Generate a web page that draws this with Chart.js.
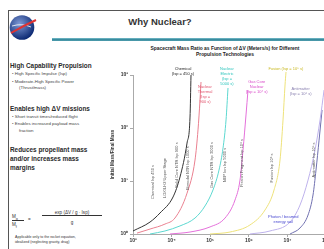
<!DOCTYPE html>
<html>
<head>
<meta charset="utf-8">
<script src="https://cdn.jsdelivr.net/npm/chart.js@4/dist/chart.umd.min.js"></script>
<style>
  html, body { margin: 0; padding: 0; width: 324px; height: 249px; overflow: hidden; background: #fff;
    font-family: "Liberation Sans", Arial, sans-serif; }
  #frame { position: absolute; left: 8px; top: 10px; width: 330px; height: 250px;
    border-left: 1px solid #555; border-top: 1px solid #555; }
  #logo { position: absolute; left: 9px; top: 14px; }
  #title { position: absolute; left: 100px; width: 120px; top: 16px; text-align: center;
    font-weight: bold; font-size: 9.5px; line-height: 11px; color: #333; }
  #rule { position: absolute; left: 52px; top: 38px; width: 280px; height: 3px;
    background: linear-gradient(#7cc0cc, #2d8196 60%, #5aa7b6); }
  #ctitle { position: absolute; left: 115px; width: 220px; top: 46px; text-align: center;
    font-weight: bold; font-size: 4.9px; line-height: 6px; color: #222; }
  #side { position: absolute; left: 10px; top: 61px; width: 97px; color: #2a2a2a; }
  .h { font-weight: bold; font-size: 6.4px; line-height: 9px; }
  .b { font-size: 4.4px; line-height: 8.5px; padding-left: 2px; color: #444; }
  .c { padding-left: 7px; }
  .gap { height: 10px; }
  #formula { position: absolute; left: 12px; top: 208px; width: 95px; font-size: 4.6px; color: #333; }
  #note { position: absolute; left: 15px; top: 235px; width: 85px; font-size: 3.6px; line-height: 5px; color: #333; }
  #wrap { position: absolute; left: 105px; top: 60px; width: 240px; height: 195px; }
</style>
</head>
<body>
<div id="frame"></div>
<svg id="logo" width="28" height="28" viewBox="0 0 28 28">
  <defs>
    <radialGradient id="g" cx="40%" cy="35%" r="65%">
      <stop offset="0" stop-color="#7f9ad6"/>
      <stop offset="1" stop-color="#0d2a74"/>
    </radialGradient>
  </defs>
  <circle cx="13" cy="13.5" r="12.3" fill="url(#g)"/>
  <path d="M3 12 Q13 9 22 13" stroke="#fff" stroke-width="0.8" fill="none"/>
  <path d="M2 19 Q14 12 27 6" stroke="#d33" stroke-width="2" fill="none"/>
</svg>
<div id="title">Why Nuclear?</div>
<div id="rule"></div>
<div id="ctitle">Spacecraft Mass Ratio as Function of &Delta;V (Meters/s) for Different<br>Propulsion Technologies</div>

<div id="side">
  <div class="h">High Capability Propulsion</div>
  <div class="b">&bull; High Specific Impulse (Isp)</div>
  <div class="b" style="line-height:6.5px">&bull; Moderate-High Specific Power<br><span class="c">(Thrust/mass)</span></div>
  <div class="gap" style="height:12px"></div>
  <div class="h">Enables high &Delta;V missions</div>
  <div class="b">&bull; Short transit times/reduced flight</div>
  <div class="b" style="line-height:6.5px">&bull; Enables increased payload mass<br><span class="c">fraction</span></div>
  <div class="gap" style="height:11px"></div>
  <div class="h">Reduces propellant mass<br>and/or increases mass<br>margins</div>
</div>

<div id="formula">
  <span style="position:absolute;left:0;top:6px">M<sub>o</sub></span>
  <span style="position:absolute;left:0;top:12px;border-top:0.6px solid #333;width:12px;padding-top:1px">M<sub>f</sub></span>
  <span style="position:absolute;left:16px;top:9px">=</span>
  <span style="position:absolute;left:30px;top:2px;width:60px;text-align:center;border-bottom:0.6px solid #333">exp (&Delta;V / g &middot; Isp)</span>
  <span style="position:absolute;left:30px;top:12px;width:60px;text-align:center">g</span>
</div>
<div id="note">Applicable only to the rocket equation,<br>idealized (neglecting gravity, drag)</div>

<div id="wrap"><canvas id="myChart"></canvas></div>

<script>
"use strict"

// Tick labels
const xTicks = [1e3, 1e4, 1e5, 1e6, 1e7, 1e8];
const xTickLabels = ['10³', '10⁴', '10⁵', '10⁶', '10⁷', '10⁸'];
const yTicks = [1, 10, 100, 1000];
const yTickLabels = ['10⁰', '10¹', '10²', '10³'];

// Curves, [delta V (m/s), mass ratio]
const chemical = [[1000, 1.14], [2760, 1.68], [5000, 2.49], [10900, 5.0], [16500, 11.9], [25100, 52], [30000, 161], [31800, 1000]];
const nuclearThermal = [[1270, 1.04], [2760, 1.24], [6740, 1.54], [12200, 2.0], [25100, 5.9], [40400, 24.9], [48300, 92], [54400, 337], [57800, 738]];
const nuclearElectric = [[2760, 1.0], [6740, 1.14], [16500, 1.42], [40400, 2.0], [73300, 3.38], [118000, 6.77], [169000, 16.1], [215000, 42], [257000, 142], [289000, 569]];
const gasCore = [[9100, 1.0], [30000, 1.09], [98900, 1.36], [242000, 2.0], [439000, 4.38], [591000, 10.4], [707000, 38.5], [846000, 176], [953000, 521]];
const fusion = [[98900, 1.0], [326000, 1.09], [1.07e6, 1.48], [2.63e6, 2.84], [4.5e6, 6.77], [6.43e6, 24.9], [7.69e6, 142], [8.67e6, 648], [9.2e6, 1140]];
const antimatter = [[1.07e6, 1.0], [3.54e6, 1.14], [1.17e7, 1.68], [2.12e7, 3.52], [3.42e7, 10.4], [5.19e7, 38.5], [7.0e7, 142], [8.9e7, 521]];
const photon = [[1.17e7, 1.0], [2.12e7, 1.3], [3.42e7, 2.28], [4.6e7, 5.44], [5.5e7, 16.1], [6.6e7, 59], [7.9e7, 219]];

// Vertical notes inside the plot: [delta V, ratio, text]
const sideNotes = [
    [3300, 9.6, 'Chemical Isp 450 s'],
    [6740, 11.4, 'LOX/LH2 Upper Stage'],
    [13800, 20, 'Solid Core NTR Isp 900 s'],
    [26600, 17.6, 'Bimodal NTR Isp 1000 s'],
    [111000, 20, 'Gas Core NTR Isp 3000 s'],
    [242000, 20, 'NEP Ion Isp 5000 s'],
    [667000, 21.9, 'Fission Fragment Isp 10⁴ s'],
    [4.0e6, 17.6, 'Fusion Isp 10⁵ s'],
    [4.9e7, 25, 'Antimatter Isp 10⁶ s']
];

// Coloured labels over the curves: [delta V, ratio at top of text, colour, lines]
const curveNotes = [
    [19700, 1410, '#222', ['Chemical', '(Isp = 450 s)']],
    [73300, 650, '#e0506a', ['Nuclear', 'Thermal', '(Isp =', '900 s)']],
    [272000, 1410, '#2cc4bc', ['Nuclear', 'Electric', '(Isp =', '5000 s)']],
    [1.6e6, 800, '#d848c8', ['Gas Core', 'Nuclear', '(Isp = 10⁴ s)']],
    [9.1e6, 1410, '#c8b820', ['Fusion (Isp = 10⁵ s)']],
    [2.2e7, 590, '#8a80b0', ['Antimatter', '(Isp = 10⁶ s)']],
    [7.8e6, 2.3, '#4848d0', ['Photon / beamed', 'energy sail']]
];

const line = (label, data, color) => ({
    label: label,
    data: data.map(p => ({x: p[0], y: p[1]})),
    borderColor: color,
    borderWidth: 1,
    pointRadius: 0,
    cubicInterpolationMode: 'monotone',
    clip: false
});

const notes = {
    id: 'notes',
    afterDatasetsDraw(chart) {
        const ctx = chart.ctx, x = chart.scales.x, y = chart.scales.y;
        ctx.save();
        ctx.textAlign = 'center';
        ctx.font = '4px "Liberation Sans", Arial, sans-serif';
        ctx.fillStyle = '#555';
        ctx.textBaseline = 'middle';
        sideNotes.forEach(n => {
            ctx.save();
            ctx.translate(x.getPixelForValue(n[0]), y.getPixelForValue(n[1]));
            ctx.rotate(-Math.PI / 2);
            ctx.fillText(n[2], 0, 0);
            ctx.restore();
        });
        ctx.textBaseline = 'top';
        curveNotes.forEach(n => {
            const px = x.getPixelForValue(n[0]), py = y.getPixelForValue(n[1]);
            ctx.fillStyle = n[2];
            n[3].forEach((t, i) => ctx.fillText(t, px, py + i * 5));
        });
        ctx.restore();
    }
};

const myChart = new Chart(document.getElementById('myChart').getContext('2d'), {
    type: 'line',
    data: {
        datasets: [
            line('Chemical', chemical, '#333'),
            line('Nuclear Thermal', nuclearThermal, '#ea8090'),
            line('Nuclear Electric', nuclearElectric, '#5cd8d0'),
            line('Gas Core', gasCore, '#e470da'),
            line('Fusion', fusion, '#eee27a'),
            line('Antimatter', antimatter, '#beb2ec'),
            line('Photon', photon, '#7070b0')
        ]
    },
    options: {
        responsive: true,
        maintainAspectRatio: false,
        animation: false,
        layout: { padding: { top: 15, left: 5, right: 0, bottom: 0 } },
        plugins: { legend: { display: false }, tooltip: { enabled: false } },
        scales: {
            x: {
                type: 'logarithmic',
                min: 1000,
                max: 3.1e8,
                afterFit: s => { s.height = 21; },
                afterBuildTicks: s => { s.ticks = xTicks.map(v => ({value: v})); },
                border: { color: '#aaa' },
                grid: { drawOnChartArea: false, tickLength: 3, color: '#aaa' },
                ticks: {
                    autoSkip: false, maxRotation: 0, padding: 1,
                    color: '#333', font: { size: 5, weight: 'bold' },
                    callback: (v, i) => xTickLabels[i]
                },
                title: { display: true, text: 'ΔV (m/s)', color: '#333', padding: 0, font: { size: 5, weight: 'bold' } }
            },
            y: {
                type: 'logarithmic',
                min: 1,
                max: 1000,
                afterFit: s => { s.width = 23; },
                afterBuildTicks: s => { s.ticks = yTicks.map(v => ({value: v})); },
                border: { color: '#aaa' },
                grid: { drawOnChartArea: false, tickLength: 3, color: '#aaa' },
                ticks: {
                    padding: 2, color: '#333', font: { size: 5, weight: 'bold' },
                    callback: (v, i) => yTickLabels[i]
                },
                title: { display: true, text: 'Initial Mass/Final Mass', color: '#333', padding: 0, font: { size: 4.6, weight: 'bold' } }
            }
        }
    },
    plugins: [notes]
});
</script>
</body>
</html>
